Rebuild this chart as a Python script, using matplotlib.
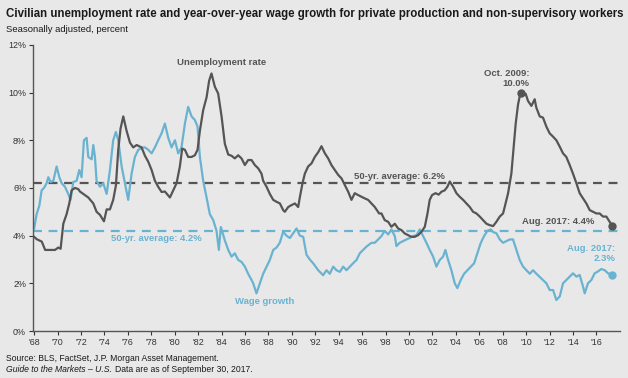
import matplotlib.pyplot as plt

# =====================================================
# Data
# =====================================================
unemp_years = [
    1968.0, 1968.22, 1968.65, 1968.94, 1969.35, 1969.78, 1970.06, 1970.26,
    1970.49, 1970.77, 1971.0, 1971.2, 1971.48, 1971.77, 1971.91, 1972.19,
    1972.62, 1973.05, 1973.33, 1973.62, 1973.96, 1974.19, 1974.47, 1974.75,
    1974.98, 1975.18, 1975.38, 1975.61, 1975.89, 1976.18, 1976.46, 1976.75,
    1977.17, 1977.46, 1977.74, 1978.03, 1978.31, 1978.59, 1978.88, 1979.16,
    1979.59, 1979.87, 1980.16, 1980.44, 1980.64, 1980.87, 1981.15, 1981.44,
    1981.72, 1981.95, 1982.15, 1982.43, 1982.72, 1982.94, 1983.14, 1983.43,
    1983.71, 1984.0, 1984.28, 1984.57, 1984.85, 1985.13, 1985.42, 1985.7,
    1985.99, 1986.27, 1986.56, 1986.84, 1987.13, 1987.41, 1987.55, 1987.84,
    1988.12, 1988.41, 1988.69, 1988.98, 1989.26, 1989.4, 1989.69, 1989.97,
    1990.26, 1990.54, 1990.68, 1990.91, 1991.11, 1991.39, 1991.68, 1991.96,
    1992.25, 1992.53, 1992.82, 1993.1, 1993.38, 1993.67, 1993.95, 1994.24,
    1994.52, 1994.81, 1995.09, 1995.37, 1995.66, 1995.94, 1996.23, 1996.51,
    1996.8, 1997.08, 1997.45, 1997.65, 1997.93, 1998.22, 1998.5, 1998.79,
    1999.07, 1999.36, 1999.64, 1999.92, 2000.21, 2000.49, 2000.78, 2001.06,
    2001.35, 2001.58, 2001.77, 2001.97, 2002.26, 2002.54, 2002.77, 2003.05,
    2003.28, 2003.48, 2003.77, 2004.05, 2004.33, 2004.62, 2004.9, 2005.19,
    2005.47, 2005.76, 2006.04, 2006.32, 2006.61, 2006.89, 2007.18, 2007.46,
    2007.75, 2008.03, 2008.17, 2008.46, 2008.74, 2008.94, 2009.11, 2009.31,
    2009.54, 2009.74, 2009.96, 2010.16, 2010.45, 2010.73, 2010.87, 2011.16,
    2011.44, 2011.73, 2012.01, 2012.3, 2012.58, 2012.87, 2013.15, 2013.43,
    2013.72, 2014.0, 2014.29, 2014.57, 2014.86, 2015.14, 2015.43, 2015.71,
    2016.0, 2016.28, 2016.56, 2016.85, 2017.13, 2017.36,
]
unemp_rate = [
    3.95, 3.85, 3.75, 3.4, 3.4, 3.4, 3.5, 3.45,
    4.5, 4.9, 5.35, 5.9, 6.0, 5.95, 5.85, 5.75,
    5.6, 5.35, 5.0, 4.87, 4.6, 5.1, 5.1, 5.5,
    6.1, 7.6, 8.5, 9.0, 8.4, 7.9, 7.7, 7.8,
    7.7, 7.35, 7.1, 6.75, 6.3, 6.05, 5.83, 5.85,
    5.6, 5.9, 6.2, 6.9, 7.65, 7.6, 7.3, 7.3,
    7.37, 7.6, 8.4, 9.26, 9.8, 10.5, 10.8, 10.24,
    9.96, 9.0, 7.85, 7.4, 7.35, 7.24, 7.37, 7.24,
    6.96, 7.17, 7.17, 6.96, 6.82, 6.6, 6.3, 6.05,
    5.75, 5.5, 5.42, 5.35, 5.07, 5.0, 5.2, 5.28,
    5.35, 5.2, 5.6, 6.2, 6.6, 6.9, 7.03, 7.3,
    7.5, 7.75, 7.45, 7.24, 6.96, 6.75, 6.55, 6.4,
    6.12, 5.84, 5.5, 5.78, 5.7, 5.63, 5.56, 5.5,
    5.35, 5.2, 4.93, 4.93, 4.65, 4.58, 4.37, 4.5,
    4.3, 4.23, 4.09, 4.02, 3.95, 3.95, 4.02, 4.16,
    4.37, 4.93, 5.5, 5.7, 5.78, 5.72, 5.84, 5.9,
    6.05, 6.27, 6.05, 5.78, 5.63, 5.5, 5.35, 5.2,
    5.0, 4.93, 4.8, 4.65, 4.5, 4.44, 4.4, 4.58,
    4.8, 4.93, 5.2, 5.78, 6.6, 7.75, 8.7, 9.5,
    10.05, 9.9, 9.95, 9.65, 9.44, 9.72, 9.37, 9.0,
    8.95, 8.57, 8.29, 8.15, 8.0, 7.73, 7.45, 7.3,
    6.96, 6.6, 6.2, 5.78, 5.56, 5.35, 5.07, 5.0,
    4.93, 4.93, 4.8, 4.8, 4.58, 4.4,
]

wage_years = [
    1968.0, 1968.21, 1968.44, 1968.64, 1968.84, 1969.07, 1969.21, 1969.41,
    1969.64, 1969.92, 1970.15, 1970.35, 1970.63, 1970.91, 1971.11, 1971.34,
    1971.63, 1971.85, 1972.05, 1972.25, 1972.48, 1972.62, 1972.91, 1973.05,
    1973.19, 1973.33, 1973.62, 1973.9, 1974.19, 1974.47, 1974.75, 1974.98,
    1975.18, 1975.47, 1975.75, 1976.03, 1976.32, 1976.6, 1976.89, 1977.31,
    1977.46, 1977.74, 1978.03, 1978.31, 1978.59, 1978.88, 1979.16, 1979.45,
    1979.73, 1980.02, 1980.3, 1980.58, 1980.87, 1981.15, 1981.44, 1981.72,
    1981.95, 1982.15, 1982.43, 1982.72, 1983.0, 1983.29, 1983.57, 1983.77,
    1983.94, 1984.28, 1984.57, 1984.85, 1985.13, 1985.42, 1985.7, 1985.99,
    1986.27, 1986.56, 1986.7, 1986.98, 1987.27, 1987.55, 1987.84, 1988.12,
    1988.41, 1988.69, 1988.97, 1989.26, 1989.54, 1989.83, 1990.11, 1990.4,
    1990.68, 1990.97, 1991.25, 1991.53, 1991.82, 1992.25, 1992.67, 1992.96,
    1993.24, 1993.53, 1993.81, 1994.1, 1994.38, 1994.66, 1994.95, 1995.23,
    1995.52, 1995.8, 1996.09, 1996.37, 1996.8, 1997.08, 1997.37, 1997.65,
    1997.93, 1998.22, 1998.5, 1998.79, 1998.93, 1999.21, 1999.5, 1999.78,
    2000.07, 2000.35, 2000.64, 2000.92, 2001.21, 2001.49, 2001.77, 2002.06,
    2002.34, 2002.63, 2002.91, 2003.11, 2003.34, 2003.62, 2003.91, 2004.13,
    2004.42, 2004.7, 2004.99, 2005.27, 2005.56, 2005.84, 2006.13, 2006.41,
    2006.69, 2006.98, 2007.18, 2007.46, 2007.75, 2008.03, 2008.32, 2008.6,
    2008.88, 2009.17, 2009.45, 2009.74, 2010.02, 2010.31, 2010.59, 2010.88,
    2011.16, 2011.44, 2011.73, 2012.01, 2012.3, 2012.58, 2012.87, 2013.15,
    2013.44, 2013.72, 2014.0, 2014.29, 2014.57, 2014.86, 2015.0, 2015.28,
    2015.57, 2015.85, 2016.14, 2016.42, 2016.71, 2016.99, 2017.36,
]
wage_growth = [
    4.3, 4.9, 5.25, 5.9, 6.0, 6.2, 6.45, 6.25,
    6.3, 6.9, 6.45, 6.2, 6.05, 5.75, 5.5, 6.25,
    6.3, 6.75, 6.45, 8.0, 8.1, 7.3, 7.2, 7.8,
    7.3, 6.3, 6.05, 6.2, 5.75, 6.75, 8.0, 8.35,
    8.0, 6.9, 6.2, 5.5, 6.6, 7.3, 7.6, 7.7,
    7.7, 7.6, 7.45, 7.7, 8.0, 8.29, 8.7, 8.1,
    7.7, 8.0, 7.45, 7.7, 8.7, 9.4, 9.0, 8.85,
    8.57, 7.3, 6.3, 5.6, 4.9, 4.65, 4.2, 3.4,
    4.36, 3.8, 3.4, 3.12, 3.26, 2.98, 2.9, 2.7,
    2.4, 2.14, 2.0, 1.58, 2.0, 2.4, 2.7, 2.98,
    3.4, 3.5, 3.7, 4.16, 4.0, 3.9, 4.1, 4.3,
    4.0, 3.95, 3.2, 3.0, 2.84, 2.55, 2.34, 2.55,
    2.4, 2.7, 2.55, 2.48, 2.7, 2.55, 2.7, 2.84,
    2.98, 3.26, 3.4, 3.54, 3.7, 3.7, 3.84, 3.98,
    4.2, 4.05, 4.26, 3.98, 3.56, 3.7, 3.77, 3.84,
    3.9, 3.98, 4.02, 4.26, 3.98, 3.7, 3.4, 3.12,
    2.7, 2.98, 3.12, 3.4, 2.98, 2.55, 2.0, 1.8,
    2.14, 2.4, 2.55, 2.7, 2.84, 3.26, 3.7, 3.98,
    4.2, 4.26, 4.15, 4.1, 3.84, 3.7, 3.77, 3.84,
    3.84, 3.4, 2.98, 2.7, 2.55, 2.4, 2.55, 2.4,
    2.27, 2.14, 2.0, 1.72, 1.72, 1.3, 1.45, 2.0,
    2.14, 2.28, 2.42, 2.28, 2.35, 1.86, 1.58, 2.0,
    2.14, 2.42, 2.5, 2.6, 2.55, 2.42, 2.35,
]

unemp_avg = 6.2
wage_avg = 4.2
peak_year = 2009.54
peak_rate = 10.0

year_ticks = list(range(1968, 2017, 2))
year_labels = ["'" + str(y)[2:] for y in year_ticks]
pct_ticks = [0, 2, 4, 6, 8, 10, 12]
pct_labels = [f"{p}%" for p in pct_ticks]

# =====================================================
# Style
# =====================================================
plt.rcParams["font.family"] = ["Liberation Sans", "DejaVu Sans"]
BG = "#e8e8e8"
DARK = "#555555"
BLUE = "#69b3d1"

fig = plt.figure(figsize=(6.28, 3.78), dpi=100, facecolor=BG)
ax = fig.add_axes([0.0525, 0.1243, 0.9345, 0.757])
ax.set_facecolor(BG)

# =====================================================
# Lines
# =====================================================
ax.axhline(unemp_avg, color=DARK, linestyle=(0, (4, 3)), linewidth=1.6, zorder=1)
ax.axhline(wage_avg, color=BLUE, linestyle=(0, (4, 3)), linewidth=1.6, zorder=1)

ax.plot(wage_years, wage_growth, color=BLUE, linewidth=1.6, zorder=2)
ax.plot(unemp_years, unemp_rate, color=DARK, linewidth=1.6, zorder=3)

ax.plot([peak_year], [peak_rate], "o", color=DARK, markersize=5, zorder=4)
ax.plot([unemp_years[-1]], [unemp_rate[-1]], "o", color=DARK, markersize=5, zorder=4)
ax.plot([wage_years[-1]], [wage_growth[-1]], "o", color=BLUE, markersize=5, zorder=4)

# =====================================================
# Annotations
# =====================================================
ax.text(1984.0, 11.25, "Unemployment rate", color=DARK, fontsize=6.8,
        fontweight="bold", ha="center", va="center")
ax.text(2003.1, 6.5, "50-yr. average: 6.2%", color=DARK, fontsize=6.8,
        fontweight="bold", ha="right", va="center")
ax.text(1978.4, 3.86, "50-yr. average: 4.2%", color=BLUE, fontsize=6.8,
        fontweight="bold", ha="center", va="center")
ax.text(1987.7, 1.23, "Wage growth", color=BLUE, fontsize=6.8,
        fontweight="bold", ha="center", va="center")
ax.text(2010.3, 10.2, "Oct. 2009:\n10.0%", color=DARK, fontsize=6.8,
        fontweight="bold", ha="right", va="bottom", linespacing=1.1)
ax.text(2015.85, 4.58, "Aug. 2017: 4.4%", color=DARK, fontsize=6.8,
        fontweight="bold", ha="right", va="center")
ax.text(2017.6, 2.85, "Aug. 2017:\n2.3%", color=BLUE, fontsize=6.8,
        fontweight="bold", ha="right", va="bottom", linespacing=1.1)

# =====================================================
# Axes
# =====================================================
ax.set_xlim(1967.9, 2018.0)
ax.set_ylim(0, 12)
ax.set_xticks(year_ticks)
ax.set_xticklabels(year_labels)
ax.set_yticks(pct_ticks)
ax.set_yticklabels(pct_labels)
ax.tick_params(axis="both", labelsize=6.4, colors="#333333", length=3,
               width=0.8, pad=2)
for side in ["top", "right"]:
    ax.spines[side].set_visible(False)
for side in ["left", "bottom"]:
    ax.spines[side].set_color("#555555")
    ax.spines[side].set_linewidth(1.0)

# =====================================================
# Titles and footer
# =====================================================
fig.text(0.01, 0.963, "Civilian unemployment rate and year-over-year wage growth "
         "for private production and non-supervisory workers",
         fontsize=8.3, fontweight="bold", color="#1a1a1a", va="center")
fig.text(0.01, 0.922, "Seasonally adjusted, percent", fontsize=6.8,
         color="#1a1a1a", va="center")
fig.text(0.01, 0.052, "Source: BLS, FactSet, J.P. Morgan Asset Management.",
         fontsize=6.2, color="#1a1a1a", va="center")
t = fig.text(0.01, 0.022, "Guide to the Markets \u2013 U.S.", fontsize=6.2,
             color="#1a1a1a", va="center", style="italic")
fig.canvas.draw()
bb = t.get_window_extent()
fig.text(bb.x1 / fig.bbox.width + 0.004, 0.022,
         "Data are as of September 30, 2017.", fontsize=6.2,
         color="#1a1a1a", va="center")

fig.savefig("out.png", dpi=100, facecolor=BG)
